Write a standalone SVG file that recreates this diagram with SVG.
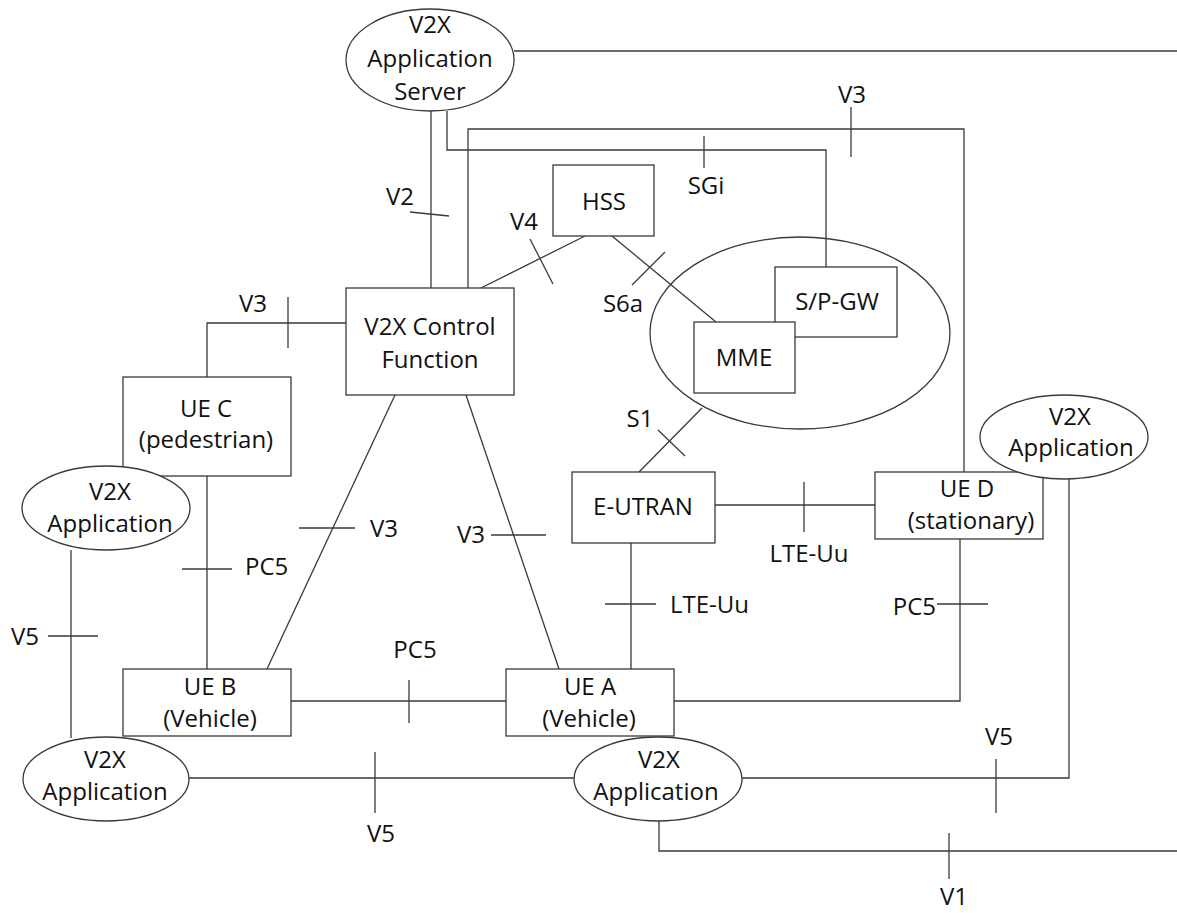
<svg xmlns="http://www.w3.org/2000/svg" width="1177" height="913" viewBox="0 0 1177 913">
<style>
.ln{fill:none;stroke:#3a3a3a;stroke-width:1.3}
.bx{fill:#fff;stroke:#3a3a3a;stroke-width:1.3}
.eo{fill:none;stroke:#3a3a3a;stroke-width:1.3}
text{font-family:"Open Sans","Noto Sans","Liberation Sans",sans-serif;font-size:24px;fill:#111;text-anchor:middle}
.s{text-anchor:start}
.e{text-anchor:end}
</style>
<rect width="1177" height="913" fill="#fff"/>
<g id="connectors">
<path class="ln" d="M514 51H1177"/>
<path class="ln" d="M431 111V288"/>
<path class="ln" d="M410 212L449 216"/>
<path class="ln" d="M447 111V150H826V267"/>
<path class="ln" d="M704 136V168"/>
<path class="ln" d="M468 288V129H964V472"/>
<path class="ln" d="M851 107V157"/>
<path class="ln" d="M585 236L481 288"/>
<path class="ln" d="M530 239L553 284"/>
<path class="ln" d="M612 236L716 322"/>
<path class="ln" d="M665 252L632 285"/>
<path class="ln" d="M702 408L639 472"/>
<path class="ln" d="M658 430L685 456"/>
<path class="ln" d="M715 505H875"/>
<path class="ln" d="M804 482V532"/>
<path class="ln" d="M631 543V669"/>
<path class="ln" d="M605 604H656"/>
<path class="ln" d="M960 539V701H674"/>
<path class="ln" d="M937 604H988"/>
<path class="ln" d="M207 377V323H346"/>
<path class="ln" d="M288 297V348"/>
<path class="ln" d="M395 395L267 669"/>
<path class="ln" d="M299 528H355"/>
<path class="ln" d="M466 395L559 669"/>
<path class="ln" d="M491 535H546"/>
<path class="ln" d="M207 476V669"/>
<path class="ln" d="M182 569H232"/>
<path class="ln" d="M71 550V738"/>
<path class="ln" d="M48 636H98"/>
<path class="ln" d="M291 701H506"/>
<path class="ln" d="M409 680V723"/>
<path class="ln" d="M189 778H574"/>
<path class="ln" d="M375 752V813"/>
<path class="ln" d="M742 778H1069V479"/>
<path class="ln" d="M996 759V813"/>
<path class="ln" d="M659 821V851H1177"/>
<path class="ln" d="M949 833V879"/>
</g>
<g id="labels">
<text x="400" y="205">V2</text>
<text x="706" y="194">SGi</text>
<text x="852" y="103">V3</text>
<text x="524" y="230">V4</text>
<text x="623" y="312">S6a</text>
<text x="640" y="427">S1</text>
<text x="809" y="562">LTE-Uu</text>
<text class="s" x="670" y="613">LTE-Uu</text>
<text class="e" x="936" y="615">PC5</text>
<text x="253" y="312">V3</text>
<text class="s" x="370" y="537">V3</text>
<text class="e" x="485" y="543">V3</text>
<text class="s" x="245" y="575">PC5</text>
<text x="25" y="645">V5</text>
<text x="415" y="658">PC5</text>
<text x="381" y="842">V5</text>
<text x="999" y="745">V5</text>
<text x="954" y="905">V1</text>
</g>
<g id="core-network">
<ellipse class="eo" cx="800" cy="333" rx="150" ry="96"/>
</g>
<g id="v2x-app-server">
<ellipse class="bx" cx="430" cy="60" rx="84" ry="51"/>
<text x="430" y="33">V2X</text>
<text x="430" y="67">Application</text>
<text x="430" y="100">Server</text>
</g>
<g id="hss">
<rect class="bx" x="553" y="165" width="101" height="71"/>
<text x="604" y="210">HSS</text>
</g>
<g id="spgw">
<rect class="bx" x="775" y="267" width="122" height="70"/>
<text x="837" y="310">S/P-GW</text>
</g>
<g id="mme">
<rect class="bx" x="694" y="322" width="101" height="71"/>
<text x="744" y="366">MME</text>
</g>
<g id="v2x-control-function">
<rect class="bx" x="346" y="288" width="168" height="107"/>
<text x="430" y="335">V2X Control</text>
<text x="430" y="368">Function</text>
</g>
<g id="e-utran">
<rect class="bx" x="572" y="472" width="143" height="71"/>
<text x="643" y="515">E-UTRAN</text>
</g>
<g id="ue-d">
<rect class="bx" x="875" y="472" width="168" height="67"/>
<text x="967" y="497">UE D</text>
<text x="971" y="529">(stationary)</text>
</g>
<g id="v2x-app-d">
<ellipse class="bx" cx="1064" cy="437" rx="84" ry="42"/>
<text x="1070" y="425">V2X</text>
<text x="1071" y="456">Application</text>
</g>
<g id="ue-c">
<rect class="bx" x="123" y="377" width="168" height="99"/>
<text x="206" y="417">UE C</text>
<text x="206" y="448">(pedestrian)</text>
</g>
<g id="v2x-app-c">
<ellipse class="bx" cx="106" cy="508" rx="84" ry="42"/>
<text x="110" y="500">V2X</text>
<text x="110" y="532">Application</text>
</g>
<g id="ue-b">
<rect class="bx" x="123" y="669" width="168" height="67"/>
<text x="210" y="695">UE B</text>
<text x="210" y="727">(Vehicle)</text>
</g>
<g id="ue-a">
<rect class="bx" x="506" y="669" width="168" height="67"/>
<text x="590" y="695">UE A</text>
<text x="589" y="727">(Vehicle)</text>
</g>
<g id="v2x-app-b">
<ellipse class="bx" cx="106" cy="779" rx="83" ry="42"/>
<text x="105" y="768">V2X</text>
<text x="105" y="800">Application</text>
</g>
<g id="v2x-app-a">
<ellipse class="bx" cx="658" cy="779" rx="84" ry="42"/>
<text x="659" y="768">V2X</text>
<text x="656" y="800">Application</text>
</g>
</svg>
